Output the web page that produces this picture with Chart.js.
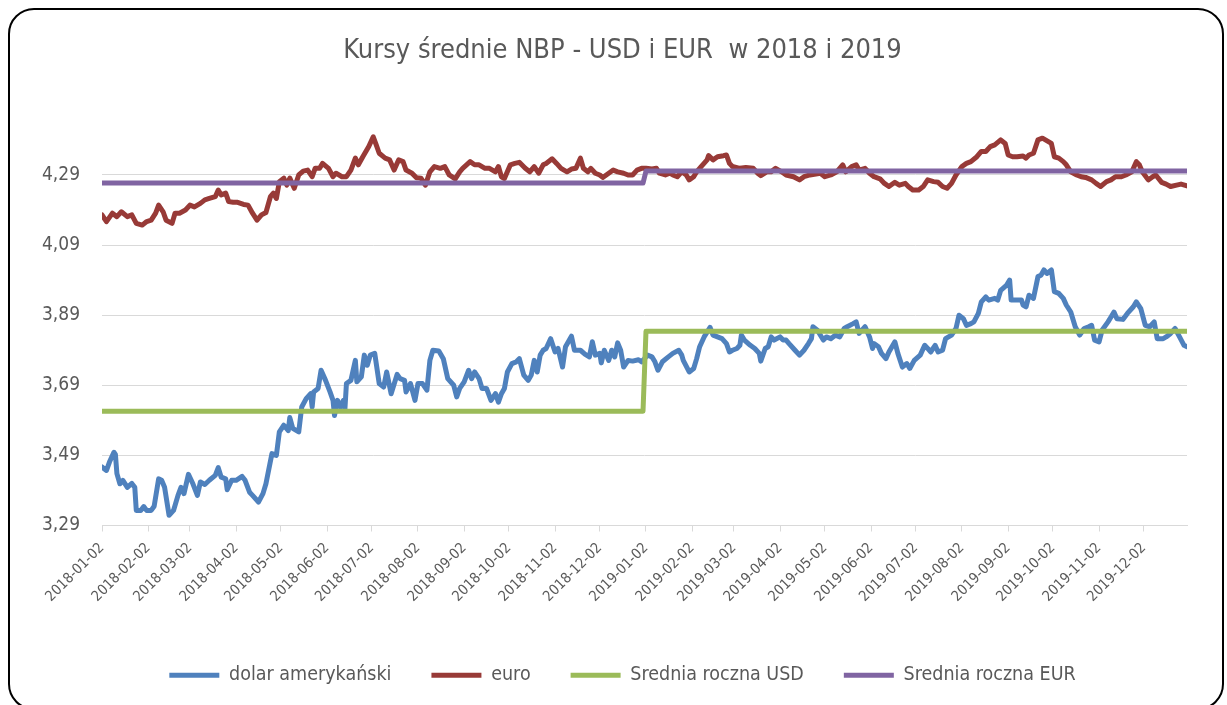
<!DOCTYPE html>
<html>
<head>
<meta charset="utf-8">
<script src="https://cdn.jsdelivr.net/npm/chart.js@4/dist/chart.umd.min.js"></script>
<style>
  html, body { margin: 0; padding: 0; background: #fff; overflow: hidden; }
  #wrap { position: relative; width: 1227px; height: 705px; overflow: hidden; }
  #frame { position: absolute; left: 8px; top: 8px; width: 1216px; height: 702px; border: 2px solid #000; border-radius: 26px; box-sizing: border-box; }
  #kursy { position: absolute; left: 0; top: 0; }
</style>
</head>
<body>
<div id="wrap">
  <div id="frame"></div>
  <canvas id="kursy" width="1227" height="705"></canvas>
</div>
<script>
// dni liczone od 2018-01-02
const startDate = '2018-01-02';

const monthTicks = [
    '2018-01-02', '2018-02-02', '2018-03-02', '2018-04-02', '2018-05-02', '2018-06-02',
    '2018-07-02', '2018-08-02', '2018-09-02', '2018-10-02', '2018-11-02', '2018-12-02',
    '2019-01-02', '2019-02-02', '2019-03-02', '2019-04-02', '2019-05-02', '2019-06-02',
    '2019-07-02', '2019-08-02', '2019-09-02', '2019-10-02', '2019-11-02', '2019-12-02'
];

const yTicks = [3.29, 3.49, 3.69, 3.89, 4.09, 4.29];

const usdDay = [
    0, 3, 5, 8, 9, 10, 12, 14, 17, 20, 22, 23, 26, 28, 30, 33, 35, 38, 40, 42,
    45, 48, 51, 53, 55, 58, 61, 64, 66, 69, 72, 76, 78, 80, 83, 84, 87, 90, 94, 96,
    99, 101, 105, 108, 110, 114, 117, 119, 122, 125, 126, 128, 132, 134, 137, 140, 141, 142, 145, 147,
    150, 153, 155, 156, 158, 160, 162, 163, 164, 167, 170, 171, 174, 176, 178, 180, 183, 186, 189, 191,
    194, 198, 200, 203, 204, 207, 210, 212, 215, 218, 220, 222, 226, 229, 232, 236, 238, 240, 243, 246,
    248, 250, 253, 255, 258, 261, 264, 266, 268, 270, 272, 275, 278, 280, 283, 286, 288, 290, 292, 294,
    296, 298, 301, 304, 306, 309, 311, 315, 317, 321, 324, 327, 329, 331, 334, 335, 337, 340, 342, 344,
    346, 348, 350, 353, 356, 360, 362, 364, 366, 369, 371, 373, 376, 380, 383, 387, 389, 390, 394, 397,
    399, 401, 404, 408, 410, 413, 416, 419, 421, 423, 426, 428, 429, 431, 435, 438, 441, 442, 445, 447,
    449, 451, 455, 457, 459, 461, 465, 468, 471, 474, 476, 477, 480, 484, 486, 489, 492, 495, 498, 500,
    504, 506, 508, 512, 515, 517, 518, 521, 523, 526, 528, 532, 534, 537, 540, 542, 545, 549, 552, 554,
    556, 559, 561, 564, 566, 570, 573, 575, 578, 580, 583, 585, 588, 590, 593, 595, 599, 601, 603, 607,
    609, 610, 613, 617, 618, 620, 622, 625, 628, 630, 632, 634, 637, 639, 642, 645, 647, 650, 653, 656,
    659, 662, 664, 666, 669, 671, 675, 677, 679, 681, 685, 688, 692, 694, 697, 700, 703, 706, 708, 712,
    714, 717, 720, 723, 726, 728
];
const usdRate = [
    3.457, 3.447, 3.471, 3.499, 3.493, 3.438, 3.409, 3.419, 3.399, 3.410, 3.399, 3.333, 3.333, 3.344, 3.333, 3.333, 3.345, 3.423, 3.419, 3.399,
    3.319, 3.333, 3.376, 3.399, 3.381, 3.436, 3.409, 3.376, 3.414, 3.407, 3.419, 3.433, 3.455, 3.428, 3.423, 3.392, 3.419, 3.419, 3.430, 3.419,
    3.385, 3.376, 3.357, 3.381, 3.409, 3.495, 3.490, 3.557, 3.576, 3.561, 3.598, 3.567, 3.557, 3.628, 3.652, 3.666, 3.628, 3.671, 3.681, 3.733,
    3.704, 3.671, 3.647, 3.604, 3.647, 3.628, 3.647, 3.623, 3.695, 3.704, 3.761, 3.700, 3.714, 3.776, 3.747, 3.776, 3.781, 3.695, 3.685, 3.728,
    3.666, 3.721, 3.709, 3.704, 3.671, 3.695, 3.647, 3.695, 3.695, 3.676, 3.761, 3.790, 3.788, 3.766, 3.709, 3.690, 3.657, 3.681, 3.700, 3.733,
    3.709, 3.728, 3.709, 3.681, 3.681, 3.647, 3.666, 3.642, 3.666, 3.681, 3.728, 3.752, 3.757, 3.766, 3.719, 3.704, 3.719, 3.761, 3.728, 3.776,
    3.790, 3.795, 3.823, 3.785, 3.795, 3.742, 3.800, 3.830, 3.790, 3.790, 3.779, 3.771, 3.814, 3.776, 3.781, 3.754, 3.790, 3.761, 3.790, 3.771,
    3.811, 3.790, 3.742, 3.761, 3.759, 3.763, 3.757, 3.766, 3.776, 3.771, 3.757, 3.733, 3.757, 3.771, 3.781, 3.790, 3.776, 3.761, 3.728, 3.738,
    3.766, 3.800, 3.828, 3.855, 3.833, 3.828, 3.823, 3.809, 3.785, 3.790, 3.795, 3.804, 3.833, 3.819, 3.804, 3.795, 3.781, 3.759, 3.795, 3.800,
    3.828, 3.819, 3.828, 3.819, 3.819, 3.809, 3.790, 3.776, 3.790, 3.809, 3.823, 3.857, 3.847, 3.819, 3.828, 3.823, 3.833, 3.828, 3.852, 3.857,
    3.866, 3.871, 3.838, 3.857, 3.828, 3.795, 3.809, 3.800, 3.781, 3.766, 3.785, 3.814, 3.781, 3.742, 3.752, 3.738, 3.761, 3.776, 3.804, 3.795,
    3.785, 3.804, 3.785, 3.790, 3.823, 3.833, 3.852, 3.890, 3.880, 3.861, 3.866, 3.871, 3.895, 3.928, 3.942, 3.933, 3.938, 3.933, 3.961, 3.976,
    3.990, 3.933, 3.933, 3.933, 3.919, 3.914, 3.947, 3.938, 4.000, 4.004, 4.019, 4.009, 4.019, 3.957, 3.952, 3.938, 3.919, 3.899, 3.857, 3.833,
    3.852, 3.857, 3.861, 3.819, 3.814, 3.847, 3.871, 3.885, 3.899, 3.880, 3.878, 3.895, 3.914, 3.928, 3.909, 3.861, 3.857, 3.871, 3.823, 3.823,
    3.828, 3.838, 3.852, 3.828, 3.804, 3.800
];

const eurDay = [
    0, 3, 7, 10, 13, 17, 20, 23, 27, 30, 33, 36, 38, 41, 43, 47, 49, 52, 56, 59,
    62, 66, 69, 72, 76, 78, 80, 83, 85, 88, 91, 95, 98, 101, 104, 107, 110, 113, 115, 117,
    119, 122, 124, 126, 129, 132, 135, 138, 141, 143, 146, 148, 152, 155, 157, 161, 164, 167, 170, 172,
    175, 179, 182, 184, 186, 190, 193, 196, 199, 202, 204, 208, 211, 214, 217, 220, 223, 227, 230, 233,
    237, 240, 242, 247, 250, 253, 257, 260, 264, 266, 268, 270, 274, 277, 280, 284, 287, 290, 293, 296,
    298, 302, 305, 308, 312, 315, 318, 321, 323, 326, 328, 331, 334, 336, 340, 343, 346, 350, 353, 356,
    359, 362, 365, 369, 372, 374, 378, 381, 383, 386, 389, 392, 394, 397, 399, 402, 406, 407, 410, 413,
    417, 419, 421, 423, 428, 432, 437, 440, 442, 446, 449, 452, 456, 459, 464, 468, 471, 475, 478, 482,
    485, 489, 493, 497, 499, 503, 506, 508, 512, 515, 518, 522, 525, 528, 532, 535, 539, 541, 544, 548,
    551, 554, 558, 561, 564, 567, 570, 573, 577, 580, 583, 587, 590, 593, 596, 599, 603, 606, 608, 611,
    614, 618, 620, 622, 625, 628, 631, 635, 637, 639, 642, 645, 647, 650, 654, 657, 660, 664, 667, 670,
    674, 677, 680, 684, 687, 691, 694, 696, 698, 702, 705, 707, 711, 714, 717, 721, 724, 728
];
const eurRate = [
    4.176, 4.157, 4.181, 4.171, 4.185, 4.171, 4.176, 4.152, 4.147, 4.157, 4.161, 4.181, 4.204, 4.185, 4.161, 4.152, 4.181, 4.181, 4.190, 4.204,
    4.199, 4.209, 4.219, 4.223, 4.228, 4.247, 4.233, 4.238, 4.214, 4.212, 4.212, 4.206, 4.204, 4.181, 4.161, 4.176, 4.183, 4.228, 4.238, 4.223,
    4.271, 4.281, 4.261, 4.281, 4.252, 4.290, 4.301, 4.304, 4.285, 4.309, 4.309, 4.323, 4.309, 4.285, 4.295, 4.285, 4.285, 4.304, 4.338, 4.319,
    4.342, 4.371, 4.399, 4.376, 4.352, 4.338, 4.333, 4.304, 4.333, 4.328, 4.304, 4.295, 4.282, 4.281, 4.261, 4.299, 4.314, 4.309, 4.314, 4.290,
    4.279, 4.299, 4.309, 4.328, 4.319, 4.319, 4.309, 4.309, 4.299, 4.314, 4.285, 4.280, 4.319, 4.323, 4.326, 4.309, 4.299, 4.314, 4.295, 4.319,
    4.323, 4.336, 4.323, 4.309, 4.299, 4.307, 4.309, 4.338, 4.309, 4.299, 4.309, 4.295, 4.290, 4.283, 4.295, 4.304, 4.299, 4.295, 4.290, 4.290,
    4.304, 4.309, 4.309, 4.307, 4.309, 4.295, 4.290, 4.295, 4.290, 4.285, 4.299, 4.290, 4.276, 4.285, 4.299, 4.314, 4.333, 4.345, 4.333, 4.342,
    4.345, 4.347, 4.323, 4.314, 4.309, 4.311, 4.309, 4.295, 4.288, 4.299, 4.299, 4.309, 4.299, 4.290, 4.285, 4.276, 4.285, 4.290, 4.292, 4.295,
    4.285, 4.290, 4.299, 4.319, 4.299, 4.314, 4.319, 4.304, 4.309, 4.295, 4.285, 4.279, 4.266, 4.257, 4.269, 4.261, 4.266, 4.257, 4.247, 4.247,
    4.257, 4.276, 4.271, 4.269, 4.257, 4.252, 4.266, 4.290, 4.314, 4.323, 4.328, 4.342, 4.357, 4.357, 4.371, 4.376, 4.390, 4.380, 4.347, 4.342,
    4.342, 4.344, 4.338, 4.347, 4.352, 4.390, 4.395, 4.385, 4.380, 4.342, 4.338, 4.328, 4.319, 4.299, 4.290, 4.285, 4.283, 4.276, 4.266, 4.257,
    4.271, 4.276, 4.285, 4.285, 4.290, 4.299, 4.328, 4.319, 4.299, 4.276, 4.285, 4.290, 4.269, 4.264, 4.257, 4.261, 4.264, 4.259
];

const avgDates = ['2018-01-02', '2018-12-31', '2019-01-02', '2019-12-31'];
const avgUsd = [3.616, 3.616, 3.844, 3.844];
const avgEur = [4.267, 4.267, 4.301, 4.301];

const FONT = "'Liberation Sans Narrow', 'Arial Narrow', 'DejaVu Sans Condensed', sans-serif";
const TEXT = '#595959';
const GRID = '#d9d9d9';
const LINE_W = 5;

const dayOf = (s) => Math.round((Date.parse(s) - Date.parse(startDate)) / 86400000);
const toPoints = (xs, ys) => xs.map((x, i) => ({ x: x, y: ys[i] }));

const makeSeries = (label, data, color, order) => ({
    label: label,
    data: data,
    borderColor: color,
    backgroundColor: color,
    pointBorderColor: color,
    pointBorderWidth: LINE_W,
    order: order
});

const ctx = document.getElementById('kursy');

new Chart(ctx, {
    type: 'line',
    data: {
        datasets: [
            makeSeries('dolar amerykański', toPoints(usdDay, usdRate), '#4f81bd', 3),
            makeSeries('euro', toPoints(eurDay, eurRate), '#983a37', 2),
            makeSeries('Srednia roczna USD', toPoints(avgDates.map(dayOf), avgUsd), '#9bbb59', 1),
            makeSeries('Srednia roczna EUR', toPoints(avgDates.map(dayOf), avgEur), '#8064a2', 0),
        ]
    },
    options: {
        responsive: false,
        animation: false,
        layout: { padding: { left: 58, right: 40, top: 0, bottom: 10 } },
        elements: {
            point: { radius: 0 },
            line: { borderWidth: LINE_W, tension: 0, borderCapStyle: 'round', borderJoinStyle: 'round' }
        },
        plugins: {
            title: {
                display: true,
                text: 'Kursy średnie NBP - USD i EUR  w 2018 i 2019',
                color: TEXT,
                font: { family: FONT, size: 27, weight: 'normal' },
                padding: { top: 35, bottom: 62 }
            },
            legend: {
                position: 'bottom',
                labels: {
                    usePointStyle: true,
                    pointStyle: 'line',
                    pointStyleWidth: 50,
                    padding: 40,
                    color: TEXT,
                    font: { family: FONT, size: 19.5 },
                    sort: (a, b) => a.datasetIndex - b.datasetIndex
                }
            },
            tooltip: { enabled: false }
        },
        scales: {
            x: {
                type: 'linear',
                min: 0,
                max: 728,
                afterBuildTicks: (scale) => {
                    scale.ticks = monthTicks.map(d => ({ value: dayOf(d) }));
                },
                afterFit: (scale) => { scale.height = 100; },
                grid: { drawOnChartArea: false, drawTicks: true, tickLength: 6, color: GRID },
                border: { display: true, color: GRID, width: 1 },
                ticks: {
                    autoSkip: false,
                    minRotation: 45,
                    maxRotation: 45,
                    padding: 8,
                    color: TEXT,
                    font: { family: FONT, size: 14.5 },
                    callback: (value, index) => monthTicks[index]
                }
            },
            y: {
                min: 3.29,
                max: 4.42,
                afterBuildTicks: (scale) => {
                    scale.ticks = yTicks.map(v => ({ value: v }));
                },
                afterFit: (scale) => { scale.width = 44; },
                grid: { color: GRID, lineWidth: 1, drawTicks: false },
                border: { display: false },
                ticks: {
                    mirror: true,
                    padding: -60,
                    color: TEXT,
                    font: { family: FONT, size: 19 },
                    callback: (value) => value.toFixed(2).replace('.', ',')
                }
            }
        }
    }
});
</script>
</body>
</html>
